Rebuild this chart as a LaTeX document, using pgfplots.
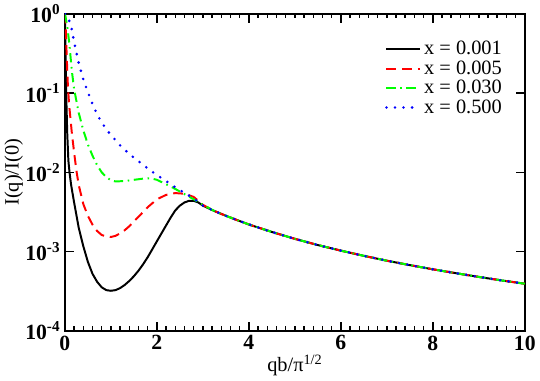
\documentclass[border=0pt]{standalone}
\usepackage{fontspec}
\setmainfont{Liberation Serif}
\usepackage{pgfplots}
\pgfplotsset{compat=1.18}

\begin{document}
\begin{tikzpicture}
\begin{axis}[
    scale only axis,
    width=350pt, height=241.5pt,
    xmin=0, xmax=10,
    ymin=1e-4, ymax=1,
    ymode=log, log basis y=10,
    xtick={0,2,4,6,8,10},
    minor x tick num=9,
    ytick={1e-4,1e-3,1e-2,1e-1,1},
    tick align=inside,
    major tick length=7pt, minor tick length=3.6pt,
    every tick/.style={black, line width=1.1pt},
    axis line style={line width=1.6pt},
    /pgf/number format/assume math mode=true,
    xticklabel style={font=\fontsize{16.5}{18}\selectfont\bfseries},
    yticklabel style={font=\fontsize{16.5}{18}\selectfont\bfseries},
    yticklabel={\pgfmathparse{int(round(\tick))}10\textsuperscript{\pgfmathresult}},
    xlabel={qb/π\textsuperscript{1/2}},
    ylabel={I(q)/I(0)},
    label style={font=\fontsize{15.5}{17}\selectfont},
    xlabel style={yshift=3pt},
    ylabel style={yshift=-5pt},
    legend style={draw=none, fill=none, at={(0.965,0.93)}, anchor=north east,
        font=\fontsize{15.5}{17}\selectfont, row sep=-1pt},
    legend cell align=left,
    legend image post style={xscale=1.5},
]
\addplot[black, line width=1.5pt] coordinates {
    (0,1) (0.01,0.501) (0.02,0.1995) (0.03,0.0891) (0.05,0.0316) (0.075,0.0141)
    (0.1,0.0100) (0.135,6.92e-3) (0.2,4.17e-3) (0.3,2.00e-3) (0.4,1.17e-3)
    (0.5,7.41e-4) (0.6,5.25e-4) (0.7,4.17e-4) (0.8,3.55e-4) (0.9,3.27e-4)
    (1.0,3.21e-4) (1.1,3.27e-4) (1.2,3.47e-4) (1.3,3.80e-4) (1.4,4.27e-4)
    (1.5,4.90e-4) (1.6,5.75e-4) (1.7,6.92e-4) (1.8,8.51e-4) (1.9,1.07e-3)
    (2.0,1.35e-3) (2.1,1.70e-3) (2.2,2.14e-3) (2.3,2.69e-3) (2.4,3.31e-3)
    (2.5,3.80e-3) (2.6,4.17e-3) (2.7,4.37e-3) (2.8,4.37e-3) (2.9,4.17e-3)
    (3.0,3.80e-3) (3.25,3.25e-3) (3.5,2.83e-3) (3.75,2.49e-3) (4,2.20e-3)
    (4.5,1.77e-3) (5,1.45e-3) (5.5,1.21e-3) (6,1.03e-3) (6.5,8.85e-4)
    (7,7.69e-4) (7.5,6.76e-4) (8,5.99e-4) (8.5,5.35e-4) (9,4.80e-4)
    (9.5,4.33e-4) (10,3.94e-4)
};
\addlegendentry{x = 0.001}
\addplot[red, line width=1.5pt, dash pattern=on 7.5pt off 4.5pt] coordinates {
    (0,1) (0.02,0.603) (0.04,0.282) (0.06,0.141) (0.08,0.0891) (0.1,0.0631)
    (0.15,0.0316) (0.2,0.0178) (0.25,0.0105) (0.3,6.92e-3) (0.4,3.98e-3)
    (0.5,2.82e-3) (0.6,2.19e-3) (0.7,1.82e-3) (0.8,1.62e-3) (0.9,1.55e-3)
    (1.0,1.53e-3) (1.1,1.58e-3) (1.2,1.70e-3) (1.3,1.86e-3) (1.4,2.09e-3)
    (1.5,2.40e-3) (1.6,2.75e-3) (1.7,3.16e-3) (1.8,3.63e-3) (1.9,4.07e-3)
    (2.0,4.57e-3) (2.2,5.19e-3) (2.4,5.47e-3) (2.6,5.37e-3) (2.8,4.90e-3)
    (2.9,4.37e-3) (3.0,3.89e-3) (3.25,3.25e-3) (3.5,2.83e-3) (3.75,2.49e-3)
    (4,2.20e-3) (4.5,1.77e-3) (5,1.45e-3) (5.5,1.21e-3) (6,1.03e-3)
    (6.5,8.85e-4) (7,7.69e-4) (7.5,6.76e-4) (8,5.99e-4) (8.5,5.35e-4)
    (9,4.80e-4) (9.5,4.33e-4) (10,3.94e-4)
};
\addlegendentry{x = 0.005}
\addplot[green, line width=1.5pt, dash pattern=on 7pt off 3.5pt on 1.2pt off 3.5pt] coordinates {
    (0,1) (0.05,0.708) (0.1,0.398) (0.15,0.191) (0.2,0.112) (0.3,0.0562)
    (0.4,0.0339) (0.5,0.0224) (0.6,0.0162) (0.7,0.0123) (0.8,0.0100)
    (0.9,8.71e-3) (1.0,7.94e-3) (1.1,7.67e-3) (1.3,7.76e-3) (1.5,8.04e-3)
    (1.7,8.32e-3) (1.8,8.38e-3) (1.9,8.32e-3) (2.0,8.04e-3) (2.2,7.08e-3)
    (2.4,6.17e-3) (2.6,5.31e-3) (2.8,4.57e-3) (3.0,3.89e-3) (3.25,3.25e-3)
    (3.5,2.83e-3) (3.75,2.49e-3) (4,2.20e-3) (4.5,1.77e-3) (5,1.45e-3)
    (5.5,1.21e-3) (6,1.03e-3) (6.5,8.85e-4) (7,7.69e-4) (7.5,6.76e-4)
    (8,5.99e-4) (8.5,5.35e-4) (9,4.80e-4) (9.5,4.33e-4) (10,3.94e-4)
};
\addlegendentry{x = 0.030}
\addplot[blue, line width=2.2pt, dash pattern=on 0pt off 6.5pt, line cap=round] coordinates {
    (0,1) (0.05,0.933) (0.1,0.794) (0.15,0.631) (0.2,0.437) (0.3,0.240)
    (0.4,0.148) (0.5,0.102) (0.6,0.0724) (0.7,0.0537) (0.8,0.0427)
    (0.9,0.0347) (1.0,0.0295) (1.2,0.0219) (1.4,0.0170) (1.6,0.0138)
    (1.8,0.0112) (2.0,9.23e-3) (2.2,7.76e-3) (2.4,6.46e-3) (2.6,5.50e-3)
    (2.8,4.68e-3) (3.0,3.80e-3) (3.25,3.25e-3) (3.5,2.83e-3) (3.75,2.49e-3)
    (4,2.20e-3) (4.5,1.77e-3) (5,1.45e-3) (5.5,1.21e-3) (6,1.03e-3)
    (6.5,8.85e-4) (7,7.69e-4) (7.5,6.76e-4) (8,5.99e-4) (8.5,5.35e-4)
    (9,4.80e-4) (9.5,4.33e-4) (10,3.94e-4)
};
\addlegendentry{x = 0.500}
\end{axis}
\end{tikzpicture}
\end{document}
